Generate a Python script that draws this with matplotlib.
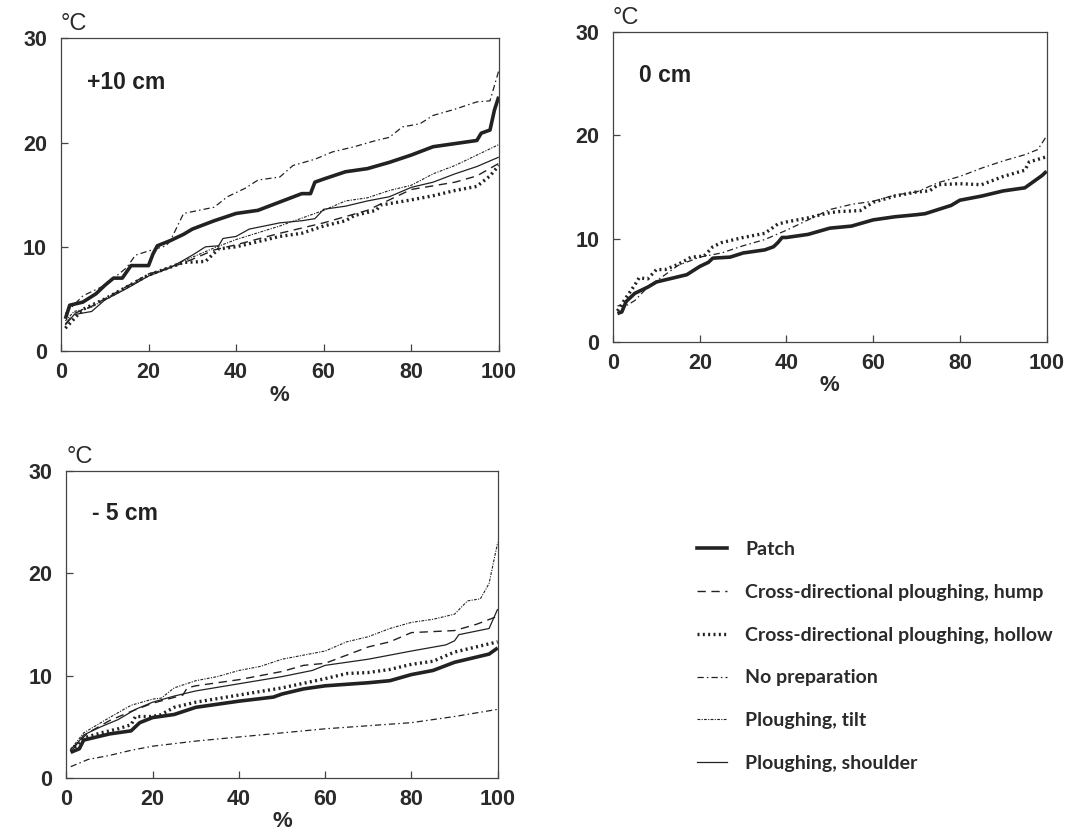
import matplotlib
matplotlib.use("Agg")
import matplotlib.pyplot as plt
from matplotlib.lines import Line2D

# Summenkurven der Temperatur (°C) über Anteil der Zeit (%)
# --- +10 cm ---
p10_x = [1, 2, 5, 8, 10, 12, 14, 16, 20, 21, 22, 25, 28, 30, 35, 40, 45, 50, 55, 57, 58, 60,
         65, 70, 75, 80, 85, 90, 95, 96, 98, 99, 100]
p10_patch = [3.1, 4.4, 4.7, 5.5, 6.3, 7.0, 7.0, 8.2, 8.2, 9.3, 10.1, 10.6, 11.2, 11.7, 12.5, 13.2,
             13.5, 14.3, 15.1, 15.1, 16.2, 16.5, 17.2, 17.5, 18.1, 18.8, 19.6, 19.9, 20.2, 20.9,
             21.2, 23.1, 24.4]
p10_nopre_x = [1, 5, 10, 15, 17, 20, 24, 25, 28, 35, 38, 42, 45, 50, 53, 58, 62, 67, 72, 75, 78,
               82, 85, 90, 95, 98, 100]
p10_nopre = [3.6, 5.3, 6.3, 8.0, 9.2, 9.6, 10.1, 10.6, 13.2, 13.8, 14.8, 15.6, 16.4, 16.7, 17.8,
             18.4, 19.1, 19.6, 20.2, 20.5, 21.5, 21.8, 22.6, 23.2, 23.9, 24.0, 26.9]
p10_sh_x = [1, 3, 7, 10, 15, 20, 25, 30, 33, 36, 37, 40, 43, 50, 55, 58, 60, 65, 70, 75, 80, 85,
            90, 95, 100]
p10_shoulder = [2.5, 3.5, 3.8, 4.9, 6.0, 7.2, 8.0, 9.2, 10.0, 10.1, 10.8, 11.0, 11.7, 12.3, 12.5,
                12.7, 13.6, 13.9, 14.4, 14.8, 15.7, 16.2, 17.0, 17.7, 18.6]
p10_ti_x = [1, 3, 7, 10, 15, 20, 25, 30, 35, 40, 50, 60, 65, 70, 75, 80, 85, 90, 95, 100]
p10_tilt = [2.9, 3.8, 4.2, 5.0, 6.1, 7.3, 8.1, 9.0, 9.9, 10.7, 12.0, 13.5, 14.4, 14.7, 15.4,
            15.9, 17.0, 17.8, 18.8, 19.8]
p10_hu_x = [1, 3, 7, 10, 15, 20, 25, 30, 35, 40, 50, 60, 70, 80, 90, 95, 100]
p10_hump = [2.6, 3.6, 4.3, 5.0, 6.2, 7.4, 8.0, 8.8, 9.7, 10.2, 11.3, 12.3, 13.5, 15.5, 16.2,
            16.8, 18.0]
p10_ho_x = [1, 5, 10, 20, 28, 33, 36, 40, 50, 55, 60, 65, 67, 70, 72, 73, 80, 85, 90, 95, 98, 100]
p10_hollow = [2.2, 4.0, 5.0, 7.3, 8.5, 8.6, 9.8, 10.0, 11.0, 11.3, 12.0, 12.5, 13.0, 13.3, 13.5,
              14.0, 14.5, 14.9, 15.4, 15.8, 16.8, 17.8]

# --- 0 cm ---
p0_pa_x = [1, 2, 3, 5, 8, 10, 15, 17, 20, 22, 23, 27, 30, 35, 37, 38, 39, 40, 45, 50, 55, 60, 65,
           70, 72, 75, 78, 80, 85, 90, 95, 97, 99, 100]
p0_patch = [2.75, 2.9, 3.9, 4.7, 5.3, 5.8, 6.3, 6.5, 7.3, 7.7, 8.1, 8.2, 8.6, 8.9, 9.2, 9.6, 10.1,
            10.1, 10.4, 11.0, 11.2, 11.8, 12.1, 12.3, 12.4, 12.8, 13.2, 13.7, 14.1, 14.6, 14.9,
            15.5, 16.1, 16.5]
p0_ho_x = [1, 3, 5, 6, 8, 10, 12, 15, 18, 21, 23, 25, 30, 35, 38, 40, 45, 50, 52, 57, 60, 65, 70,
           73, 75, 80, 85, 90, 95, 96, 100]
p0_hollow = [3.0, 4.3, 5.5, 6.2, 6.1, 7.0, 7.0, 7.5, 8.2, 8.3, 9.2, 9.6, 10.1, 10.5, 11.4, 11.6,
             12.0, 12.5, 12.6, 12.7, 13.5, 14.1, 14.5, 14.6, 15.2, 15.3, 15.2, 16.0, 16.6, 17.4,
             17.9]
p0_np_x = [1, 3, 5, 8, 12, 15, 20, 25, 30, 35, 40, 45, 50, 55, 60, 65, 70, 75, 80, 85, 90, 95, 98,
           100]
p0_nopre = [3.5, 3.5, 4.0, 5.3, 6.5, 7.4, 8.2, 8.6, 9.3, 9.9, 10.8, 11.8, 12.8, 13.3, 13.6, 14.2,
            14.5, 15.4, 16.0, 16.8, 17.5, 18.1, 18.6, 19.9]

# --- -5 cm ---
m5_pa_x = [1, 3, 4, 10, 15, 17, 20, 25, 30, 40, 48, 50, 55, 60, 70, 75, 80, 85, 90, 95, 98, 100]
m5_patch = [2.5, 2.85, 3.7, 4.3, 4.6, 5.4, 5.9, 6.2, 6.9, 7.5, 7.9, 8.2, 8.7, 9.0, 9.3, 9.5, 10.1,
            10.5, 11.3, 11.8, 12.1, 12.7]
m5_ho_x = [1, 4, 8, 12, 15, 16, 20, 22, 25, 30, 40, 50, 60, 65, 70, 75, 80, 85, 90, 95, 100]
m5_hollow = [2.6, 3.9, 4.4, 4.8, 5.2, 6.0, 6.0, 6.2, 6.9, 7.4, 8.1, 8.8, 9.7, 10.2, 10.3, 10.6,
             11.1, 11.4, 12.3, 12.8, 13.3]
m5_sh_x = [1, 4, 8, 12, 16, 20, 25, 30, 40, 50, 57, 60, 70, 80, 88, 90, 91, 98, 100]
m5_shoulder = [2.5, 4.2, 5.0, 5.7, 6.7, 7.4, 8.0, 8.5, 9.2, 9.9, 10.5, 11.0, 11.6, 12.4, 13.0,
               13.4, 14.0, 14.6, 16.5]
m5_hu_x = [1, 5, 10, 15, 20, 27, 28, 30, 40, 50, 55, 60, 65, 70, 75, 80, 90, 95, 100]
m5_hump = [2.8, 4.4, 5.6, 6.5, 7.3, 8.1, 8.8, 9.0, 9.6, 10.4, 11.0, 11.2, 12.0, 12.8, 13.3, 14.2,
           14.4, 15.0, 15.8]
m5_ti_x = [1, 4, 10, 15, 20, 22, 25, 30, 35, 40, 45, 50, 55, 60, 65, 70, 75, 80, 85, 90, 93, 96,
           98, 100]
m5_tilt = [2.8, 4.4, 5.9, 7.1, 7.7, 7.8, 8.8, 9.5, 9.9, 10.5, 10.9, 11.6, 12.0, 12.4, 13.3, 13.8,
           14.6, 15.2, 15.5, 16.0, 17.3, 17.5, 19.0, 23.0]
m5_np_x = [1, 5, 10, 15, 20, 30, 40, 50, 60, 70, 80, 90, 100]
m5_nopre = [1.1, 1.8, 2.2, 2.7, 3.1, 3.6, 4.0, 4.4, 4.8, 5.1, 5.4, 6.0, 6.7]

labels = ['Patch', 'Cross-directional ploughing, hump', 'Cross-directional ploughing, hollow',
          'No preparation', 'Ploughing, tilt', 'Ploughing, shoulder']

ink = '#222222'
styles = {
    'Patch': dict(lw=2.6, ls='-'),
    'Cross-directional ploughing, hump': dict(lw=1.0, ls=(0, (6, 4))),
    'Cross-directional ploughing, hollow': dict(lw=2.4, ls=(0, (0.6, 1.0))),
    'No preparation': dict(lw=0.9, ls=(0, (5, 2.5, 1.2, 2.5))),
    'Ploughing, tilt': dict(lw=0.8, ls=(0, (2.5, 1.2, 1, 1.2))),
    'Ploughing, shoulder': dict(lw=0.9, ls='-'),
}

tickfont = dict(family='Liberation Sans', weight='bold', size=15.5)

fig = plt.figure(figsize=(10.89, 8.32), dpi=100)


def panel(rect, title, series):
    ax = fig.add_axes(rect)
    for name, xs, ys in series:
        ax.plot(xs, ys, color=ink, solid_capstyle='butt', **styles[name])
    ax.set_xlim(0, 100)
    ax.set_ylim(0, 30)
    ax.set_xticks([0, 20, 40, 60, 80, 100])
    ax.set_yticks([0, 10, 20, 30])
    ax.tick_params(direction='in', length=5, width=0.9, color='#444444', labelcolor='#2a2a2a')
    ax.tick_params(axis='x', pad=8)
    ax.tick_params(axis='y', pad=10)
    for lab in ax.get_xticklabels() + ax.get_yticklabels():
        lab.set_fontfamily(tickfont['family'])
        lab.set_fontweight(tickfont['weight'])
        lab.set_fontsize(tickfont['size'])
    for sp in ax.spines.values():
        sp.set_linewidth(0.9)
        sp.set_color('#444444')
    ax.text(0.0, 1.01, '°C', transform=ax.transAxes, ha='left', va='bottom',
            family='Liberation Sans', fontsize=17, color='#2a2a2a')
    ax.text(0.06, 0.86, title, transform=ax.transAxes, ha='left', va='center',
            family='Liberation Sans', weight='bold', fontsize=16.5, color='#222222')
    ax.set_xlabel('%', family='Liberation Sans', weight='bold', fontsize=16,
                  color='#2a2a2a', labelpad=1)
    return ax


panel([0.056, 0.578, 0.402, 0.376], '+10 cm', [
    ('No preparation', p10_nopre_x, p10_nopre),
    ('Ploughing, tilt', p10_ti_x, p10_tilt),
    ('Ploughing, shoulder', p10_sh_x, p10_shoulder),
    ('Cross-directional ploughing, hump', p10_hu_x, p10_hump),
    ('Cross-directional ploughing, hollow', p10_ho_x, p10_hollow),
    ('Patch', p10_x, p10_patch),
])

panel([0.563, 0.589, 0.398, 0.373], '0 cm', [
    ('No preparation', p0_np_x, p0_nopre),
    ('Cross-directional ploughing, hollow', p0_ho_x, p0_hollow),
    ('Patch', p0_pa_x, p0_patch),
])

panel([0.061, 0.065, 0.396, 0.369], '- 5 cm', [
    ('Ploughing, tilt', m5_ti_x, m5_tilt),
    ('Cross-directional ploughing, hump', m5_hu_x, m5_hump),
    ('Ploughing, shoulder', m5_sh_x, m5_shoulder),
    ('Cross-directional ploughing, hollow', m5_ho_x, m5_hollow),
    ('Patch', m5_pa_x, m5_patch),
    ('No preparation', m5_np_x, m5_nopre),
])

# Legende rechts unten
handles = [Line2D([], [], color=ink, **styles[n]) for n in labels]
leg = fig.legend(handles, labels, loc='upper left', bbox_to_anchor=(0.640, 0.350),
                 frameon=False, handlelength=1.55, handletextpad=0.93, labelspacing=1.33,
                 borderpad=0, borderaxespad=0,
                 prop=dict(family='Lato', weight='bold', size=14))
for t in leg.get_texts():
    t.set_color('#2a2a2a')

fig.savefig('out.png', dpi=100)
